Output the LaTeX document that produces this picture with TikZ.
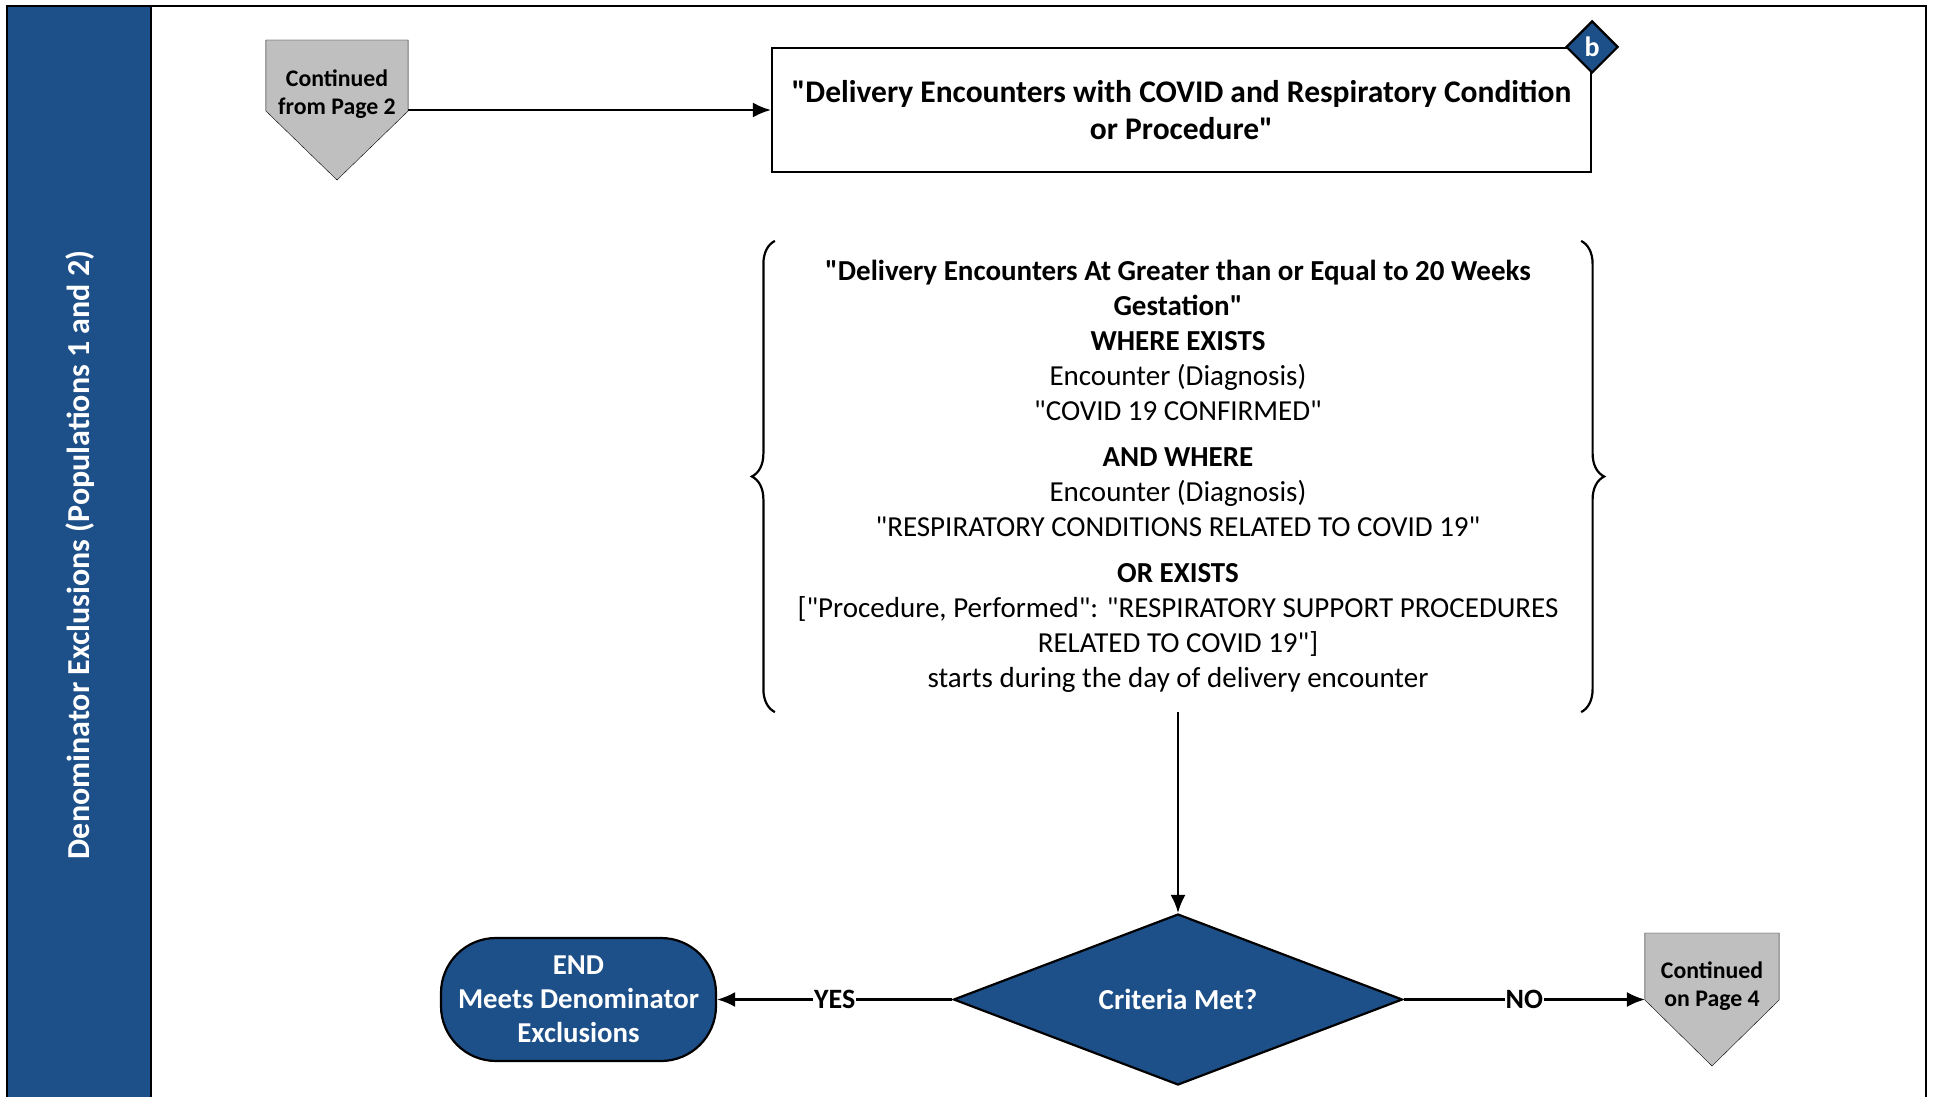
\documentclass[tikz,border=0pt]{standalone}
\usepackage{fontspec}
\setmainfont{Carlito}[Ligatures=TeXOff]
\usetikzlibrary{arrows.meta,shapes.geometric,decorations.pathreplacing,backgrounds}
\definecolor{laneblue}{RGB}{29,79,137}
\definecolor{pagegray}{RGB}{191,191,191}
\tikzset{
  lanetext/.style={rotate=90,text=white,font=\fontsize{32}{36}\selectfont\bfseries},
  box/.style={draw,fill=white,minimum width=819pt,minimum height=124pt,align=center,
    font=\fontsize{31.5}{37}\selectfont\bfseries},
  tag/.style={diamond,draw,fill=laneblue,text=white,minimum size=52pt,inner sep=0pt,
    font=\fontsize{28}{30}\selectfont\bfseries},
  crit/.style={minimum width=804pt,minimum height=469pt,align=center,inner sep=0pt,
    font=\fontsize{29}{35}\selectfont},
  curly/.style={decorate,decoration={brace,amplitude=23pt}},
  decision/.style={diamond,draw,fill=laneblue,text=white,minimum width=449pt,minimum height=171pt,
    aspect=2.6,inner sep=0pt,font=\fontsize{29}{33}\selectfont\bfseries},
  term/.style={draw,fill=laneblue,text=white,rounded corners=55pt,minimum width=275pt,
    minimum height=123pt,align=center,font=\fontsize{28.8}{34}\selectfont\bfseries},
  offpage/.style={minimum width=#1,align=center,inner sep=0pt,anchor=north,
    font=\fontsize{23.8}{28}\selectfont\bfseries},
  lbl/.style={fill=white,inner sep=1pt,font=\fontsize{28}{30}\selectfont\bfseries}
}
\begin{document}
\begin{tikzpicture}[x=1pt,y=-1pt,line width=2.2pt,>={Latex[length=18pt,width=15pt]}]
  \useasboundingbox (0,0) rectangle (1935,1097);
  \fill[laneblue] (7,6) rectangle (151,1110);
  \draw (7,1110) -- (7,6) -- (1926,6) -- (1926,1110);
  \draw (151,6) -- (151,1110);
  \node[lanetext] (lane) at (80,555) {Denominator Exclusions (Populations 1 and 2)};

  \node[offpage=140pt,minimum height=107pt] (cont2) at (337,40) {Continued\\from Page 2};
  \node[box] (top) at (1181.5,110) {"Delivery Encounters with COVID and Respiratory Condition\\or Procedure"};
  \node[tag] (b) at (top.north east) {b};

  \node[crit] (crit) at (1178,476.5) {\textbf{"Delivery Encounters At Greater than or Equal to 20 Weeks}\\
    \textbf{Gestation"}\\
    \textbf{WHERE EXISTS}\\
    Encounter (Diagnosis)\\
    "COVID 19 CONFIRMED"\\[11pt]
    \textbf{AND WHERE}\\
    Encounter (Diagnosis)\\
    "RESPIRATORY CONDITIONS RELATED TO COVID 19"\\[11pt]
    \textbf{OR EXISTS}\\
    {[}"Procedure, Performed": "RESPIRATORY SUPPORT PROCEDURES\\
    RELATED TO COVID 19"{]}\\
    starts during the day of delivery encounter};
  \draw[curly] (crit.south west) -- (crit.north west);
  \draw[curly] (crit.north east) -- (crit.south east);

  \node[decision] (dec) at (1178,999.5) {Criteria Met?};
  \node[term] (end) at (578.5,999.5) {END\\Meets Denominator\\Exclusions};
  \node[offpage=132pt,minimum height=104pt] (cont4) at (1712,933) {Continued\\on Page 4};

  \begin{scope}[on background layer]
    \draw[fill=pagegray] (cont2.north west) -- (cont2.north east) -- ([yshift=-71pt]cont2.north east)
      -- ([yshift=-140pt]cont2.north) -- ([yshift=-71pt]cont2.north west) -- cycle;
    \draw[fill=pagegray] (cont4.north west) -- (cont4.north east) -- ([yshift=-67pt]cont4.north east)
      -- ([yshift=-133pt]cont4.north) -- ([yshift=-67pt]cont4.north west) -- cycle;
  \end{scope}

  \draw[->] (cont2.east |- top.west) -- (top.west);
  \draw[->] (crit.south) -- (dec.north);
  \draw[->] (dec.west) -- node[lbl]{YES} (end.east);
  \draw[->] (dec.east) -- node[lbl]{NO} (cont4.west |- dec.east);
\end{tikzpicture}
\end{document}
